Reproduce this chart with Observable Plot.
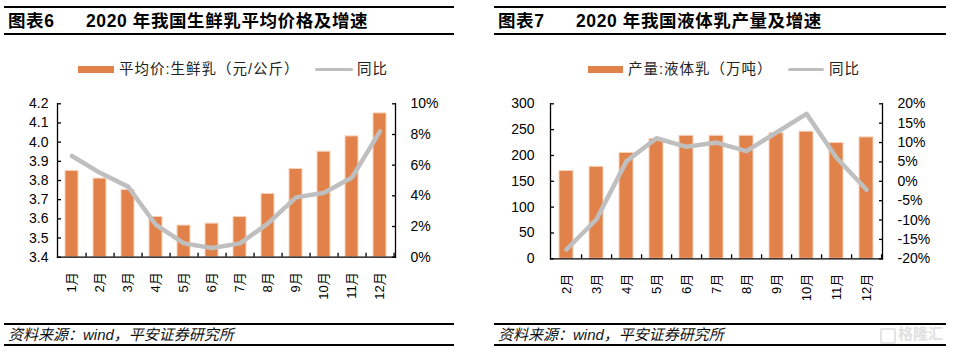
<!DOCTYPE html>
<html><head><meta charset="utf-8">
<script src="https://cdn.jsdelivr.net/npm/d3@7"></script>
<script src="https://cdn.jsdelivr.net/npm/@observablehq/plot@0.6"></script>
<style>
html,body{margin:0;padding:0;background:#fff;}
#root{position:relative;width:956px;height:352px;overflow:hidden;font-family:'Liberation Sans','Noto Sans CJK SC',sans-serif;color:#000;}
.abs{position:absolute;}
.hr{position:absolute;height:2px;background:#000;}
.title{position:absolute;font-weight:bold;font-size:17.5px;line-height:20px;white-space:nowrap;letter-spacing:0.6px;}
.leg{position:absolute;font-size:14.5px;line-height:18px;white-space:nowrap;color:#222;letter-spacing:1px;}
.foot{position:absolute;font-size:15px;line-height:18px;font-style:italic;white-space:nowrap;color:#111;}
</style></head>
<body><div id="root"></div>
<script>
// ---- data ----
const months1 = ["1月","2月","3月","4月","5月","6月","7月","8月","9月","10月","11月","12月"];
const milkPrice = [3.85,3.81,3.75,3.61,3.565,3.575,3.61,3.73,3.86,3.95,4.03,4.15];
const milkPriceYoY = [6.6,5.5,4.6,2.1,0.9,0.6,0.9,2.2,3.9,4.2,5.2,8.2];
const priceTicks = [3.4,3.5,3.6,3.7,3.8,3.9,4.0,4.1,4.2];
const priceYoYTicks = [0,2,4,6,8,10];

const months2 = ["2月","3月","4月","5月","6月","7月","8月","9月","10月","11月","12月"];
const liquidOutput = [170,178,205,232,238,238,238,243,246,224,235];
const liquidOutputYoY = [-17.6,-9.8,5.2,11.1,8.9,10.0,7.8,12.6,17.4,6.1,-2.2];
const outputTicks = [0,50,100,150,200,250,300];
const outputYoYTicks = [-20,-15,-10,-5,0,5,10,15,20];

const ORANGE = "#E1824A";
const GREY = "#BFBFBF";

const root = document.getElementById("root");
function add(html){ root.insertAdjacentHTML("beforeend", html); }

function chart(o){
  const [y0,y1] = o.yDomain, [r0,r1] = o.rDomain;
  const k = (y1-y0)/(r1-r0);
  const toY = p => y0 + (p - r0)*k;
  const fromY = v => Math.round((v - y0)/k + r0);
  const data = o.cats.map((c,i)=>({c, v:o.bars[i], p:o.yoy[i]}));
  const step = (o.width - o.mL - o.mR)/o.cats.length;
  return Plot.plot({
    width:o.width, height:o.height,
    marginLeft:o.mL, marginRight:o.mR, marginTop:o.mT, marginBottom:o.mB,
    style:{fontFamily:"'Liberation Sans','Noto Sans CJK SC',sans-serif", fontSize:"14px", color:"#000", background:"transparent", overflow:"visible"},
    x:{type:"band", domain:o.cats, paddingInner:0.52, paddingOuter:0.26, label:null},
    y:{domain:o.yDomain, label:null},
    marks:[
      Plot.barY(data,{x:"c", y1:y0, y2:"v", fill:ORANGE, stroke:"#f7d3bd", strokeWidth:1}),
      Plot.line(data,{x:"c", y:d=>toY(d.p), stroke:GREY, strokeWidth:4.5, strokeLinejoin:"round", strokeLinecap:"round"}),
      Plot.frame({anchor:"left", stroke:"#000", strokeWidth:1.3}),
      Plot.frame({anchor:"right", stroke:"#000", strokeWidth:1.3}),
      Plot.frame({anchor:"bottom", stroke:"#000", strokeWidth:1.3}),
      Plot.axisY({anchor:"left", label:null, ticks:o.yTicks, tickSize:-4, tickPadding:o.lPad, tickFormat:o.lFormat, fontSize:14, stroke:"#000", strokeWidth:1.3}),
      Plot.axisY({anchor:"right", label:null, ticks:o.rTicks.map(toY), tickSize:-4, tickPadding:o.rPad, tickFormat:v=>fromY(v)+"%", fontSize:14, stroke:"#000", strokeWidth:1.3}),
      Plot.axisX({label:null, tickSize:-4, tickFormat:()=>"", dx:step/2, stroke:"#000", strokeWidth:1.3}),
      Plot.axisX({label:null, tickSize:0, tickRotate:-90, tickPadding:15, fontSize:13})
    ]
  });
}

// ---- left panel ----
add('<div class="hr" style="left:4px;width:450px;top:6px"></div>');
add('<div class="title" style="left:8px;top:11px">图表6</div>');
add('<div class="title" style="left:86px;top:11px">2020 年我国生鲜乳平均价格及增速</div>');
add('<div class="hr" style="left:4px;width:450px;top:32.5px"></div>');
add('<div class="abs" style="left:78px;top:65.5px;width:36px;height:7.5px;background:'+ORANGE+'"></div>');
add('<div class="leg" style="left:119px;top:60px">平均价:生鲜乳（元/公斤）</div>');
add('<div class="abs" style="left:315px;top:67.5px;width:38px;height:3.5px;border-radius:2px;background:'+GREY+'"></div>');
add('<div class="leg" style="left:357px;top:60px">同比</div>');

const c1 = chart({cats:months1, bars:milkPrice, yoy:milkPriceYoY, yDomain:[3.4,4.2], yTicks:priceTicks,
  lFormat:d=>d.toFixed(1), rDomain:[0,10], rTicks:priceYoYTicks,
  width:460, height:215, mL:57, mR:65, mT:13.3, mB:48.3, lPad:13, rPad:19});
const w1 = document.createElement("div"); w1.className="abs"; w1.style.left="0px"; w1.style.top="90px";
w1.appendChild(c1); root.appendChild(w1);

add('<div class="hr" style="left:4px;width:450px;top:322.5px"></div>');
add('<div class="foot" style="left:8px;top:326px">资料来源：wind，平安证券研究所</div>');
add('<div class="hr" style="left:4px;width:450px;top:343.5px"></div>');

// ---- right panel ----
add('<div class="hr" style="left:494px;width:452px;top:6px"></div>');
add('<div class="title" style="left:498px;top:11px">图表7</div>');
add('<div class="title" style="left:576px;top:11px">2020 年我国液体乳产量及增速</div>');
add('<div class="hr" style="left:494px;width:452px;top:32.5px"></div>');
add('<div class="abs" style="left:588px;top:65.5px;width:35px;height:7.5px;background:'+ORANGE+'"></div>');
add('<div class="leg" style="left:628px;top:60px">产量:液体乳（万吨）</div>');
add('<div class="abs" style="left:788px;top:67.5px;width:36px;height:3.5px;border-radius:2px;background:'+GREY+'"></div>');
add('<div class="leg" style="left:829px;top:60px">同比</div>');

const c2 = chart({cats:months2, bars:liquidOutput, yoy:liquidOutputYoY, yDomain:[0,300], yTicks:outputTicks,
  lFormat:d=>String(d), rDomain:[-20,20], rTicks:outputYoYTicks,
  width:480, height:215, mL:74, mR:74, mT:13.3, mB:46.7, lPad:20, rPad:19});
const w2 = document.createElement("div"); w2.className="abs"; w2.style.left="476px"; w2.style.top="90px";
w2.appendChild(c2); root.appendChild(w2);

add('<div class="hr" style="left:494px;width:452px;top:322.5px"></div>');
add('<div class="foot" style="left:498px;top:326px">资料来源：wind，平安证券研究所</div>');
add('<div class="hr" style="left:494px;width:452px;top:343.5px"></div>');
add('<div class="abs" style="left:880px;top:328px;width:12px;height:12px;border:2px solid #e4e4e4;border-radius:2px"></div>');
add('<div class="abs" style="left:898px;top:325px;font-size:15px;line-height:18px;color:#e0e0e0;font-weight:bold">格隆汇</div>');
</script>
</body></html>
